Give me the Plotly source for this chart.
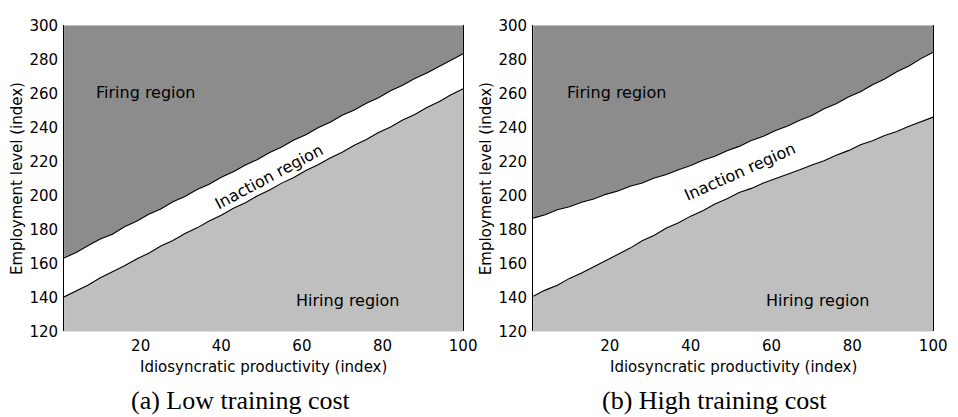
import plotly.graph_objects as go

# Idiosyncratic productivity grid (index)
productivity = [1, 4, 7, 10, 13, 16, 19, 22, 25, 28, 31, 34, 37, 40, 43, 46, 49,
                52, 55, 58, 61, 64, 67, 70, 73, 76, 79, 82, 85, 88, 91, 94, 97, 100]

# (a) Low training cost: firing and hiring thresholds on employment
low_fire = [163.2, 166.4, 170.5, 174.3, 177.2, 181.6, 184.8, 188.9, 192.0, 196.2,
            199.3, 203.4, 206.6, 210.7, 213.9, 217.9, 221.1, 225.2, 228.4, 232.5,
            235.7, 239.7, 243.0, 247.1, 250.2, 254.2, 257.4, 261.5, 264.8, 268.7,
            272.0, 275.8, 279.3, 283.2]
low_hire = [140.3, 143.9, 147.3, 151.6, 155.0, 158.6, 162.6, 166.0, 170.2, 173.5,
            177.6, 180.9, 184.9, 188.3, 192.4, 195.7, 199.8, 203.1, 207.2, 210.5,
            214.6, 218.0, 222.0, 225.4, 229.5, 232.8, 236.9, 240.2, 244.3, 247.6,
            251.7, 255.0, 259.1, 262.7]

# (b) High training cost
high_fire = [186.6, 188.6, 191.5, 193.3, 196.0, 197.9, 200.6, 202.6, 205.4, 207.3,
             210.2, 212.3, 215.1, 217.5, 220.7, 223.0, 226.3, 228.8, 232.2, 234.7,
             238.2, 240.8, 244.2, 246.9, 250.9, 253.9, 257.8, 260.9, 265.0, 268.4,
             272.7, 276.1, 280.4, 284.1]
high_hire = [140.7, 144.3, 147.2, 151.2, 154.3, 158.1, 161.4, 165.6, 169.0, 173.3,
             176.6, 180.8, 183.9, 187.8, 191.0, 194.9, 198.0, 201.7, 204.1, 207.3,
             209.8, 212.6, 215.0, 217.8, 220.4, 223.6, 226.3, 229.7, 232.1, 235.2,
             237.6, 240.7, 243.2, 246.0]

x_ticks = [20, 40, 60, 80, 100]
y_ticks = [120, 140, 160, 180, 200, 220, 240, 260, 280, 300]
y_min, y_max = 120, 300

panel_titles = ["(a) Low training cost", "(b) High training cost"]
region_names = ["Firing region", "Inaction region", "Hiring region"]

# label anchor points (data coords) and inaction label angles per panel
label_pos = [
    {"fire": (21.3, 260.5), "inact": (51.9, 211.1), "hire": (71.4, 138.0), "angle": -28},
    {"fire": (21.7, 260.5), "inact": (52.3, 214.0), "hire": (71.4, 138.0), "angle": -24},
]

DARK = "#8c8c8c"
LIGHT = "#bfbfbf"
FONT = "DejaVu Sans, Liberation Sans, Arial, sans-serif"
SERIF = "Liberation Serif, Times New Roman, serif"

domains_x = [(65 / 958, 470 / 958), (541 / 958, 947 / 958)]
domain_y = (1 - 337 / 417, 1 - 17 / 417)
caption_x = [245 / 958, 725 / 958]

fig = go.Figure()
panels = [(low_fire, low_hire), (high_fire, high_hire)]

for i, (fire, hire) in enumerate(panels):
    xa = "x" if i == 0 else "x2"
    ya = "y" if i == 0 else "y2"
    top = [y_max] * len(productivity)
    # ceiling of the plot, used as the edge of the firing area
    fig.add_trace(go.Scatter(x=productivity, y=top, mode="lines",
                             line=dict(width=0, color=DARK), xaxis=xa, yaxis=ya,
                             showlegend=False, hoverinfo="skip"))
    # firing region: between the firing threshold and the top
    fig.add_trace(go.Scatter(x=productivity, y=fire, mode="lines", fill="tonexty",
                             fillcolor=DARK, line=dict(width=1.1, color="black"),
                             xaxis=xa, yaxis=ya, showlegend=False))
    # hiring region: below the hiring threshold
    fig.add_trace(go.Scatter(x=productivity, y=hire, mode="lines", fill="tozeroy",
                             fillcolor=LIGHT, line=dict(width=1.1, color="black"),
                             xaxis=xa, yaxis=ya, showlegend=False))

axis_common_x = dict(range=[1, 100], tickvals=x_ticks, showgrid=False, zeroline=False,
                     showline=False, ticks="", ticklabelstandoff=4,
                     tickfont=dict(family=FONT, size=15, color="black"))
axis_common_y = dict(range=[y_min, y_max], tickvals=y_ticks, showgrid=False, zeroline=False,
                     showline=True, mirror=True, linecolor="black", linewidth=1,
                     ticks="", ticklabelstandoff=2,
                     tickfont=dict(family=FONT, size=15, color="black"))

fig.update_layout(
    width=958, height=417,
    margin=dict(l=0, r=0, t=0, b=0),
    paper_bgcolor="white", plot_bgcolor="white",
    xaxis=dict(domain=domains_x[0], anchor="y", **axis_common_x),
    yaxis=dict(domain=domain_y, anchor="x", **axis_common_y),
    xaxis2=dict(domain=domains_x[1], anchor="y2", **axis_common_x),
    yaxis2=dict(domain=domain_y, anchor="x2", **axis_common_y),
)

annotations = []
for i in range(2):
    xr = "x" if i == 0 else "x2"
    yr = "y" if i == 0 else "y2"
    lp = label_pos[i]
    fx, fy = lp["fire"]
    ix, iy = lp["inact"]
    hx, hy = lp["hire"]
    annotations += [
        dict(x=fx, y=fy, xref=xr, yref=yr, text=region_names[0], showarrow=False,
             font=dict(family=FONT, size=16, color="black")),
        dict(x=ix, y=iy, xref=xr, yref=yr, text=region_names[1], showarrow=False,
             textangle=lp["angle"], font=dict(family=FONT, size=16, color="black")),
        dict(x=hx, y=hy, xref=xr, yref=yr, text=region_names[2], showarrow=False,
             font=dict(family=FONT, size=16, color="black")),
    ]
    x0, x1 = domains_x[i]
    mid = (x0 + x1) / 2
    # axis titles
    annotations.append(dict(x=mid, y=1 - 374 / 417, xref="paper", yref="paper",
                            text="Idiosyncratic productivity (index)", showarrow=False,
                            font=dict(family=FONT, size=15, color="black"),
                            xanchor="center", yanchor="middle", borderpad=0))
    annotations.append(dict(x=x0 - 47 / 958, y=(domain_y[0] + domain_y[1]) / 2,
                            xref="paper", yref="paper", text="Employment level (index)",
                            showarrow=False, textangle=-90,
                            font=dict(family=FONT, size=15, color="black"),
                            xanchor="center", yanchor="middle"))
    # panel caption
    annotations.append(dict(x=caption_x[i], y=1 - 409 / 417, xref="paper", yref="paper",
                            text=panel_titles[i], showarrow=False,
                            font=dict(family=SERIF, size=26, color="black"),
                            xanchor="center", yanchor="middle", borderpad=0))

fig.update_layout(annotations=annotations)
fig.write_html("out.html")
